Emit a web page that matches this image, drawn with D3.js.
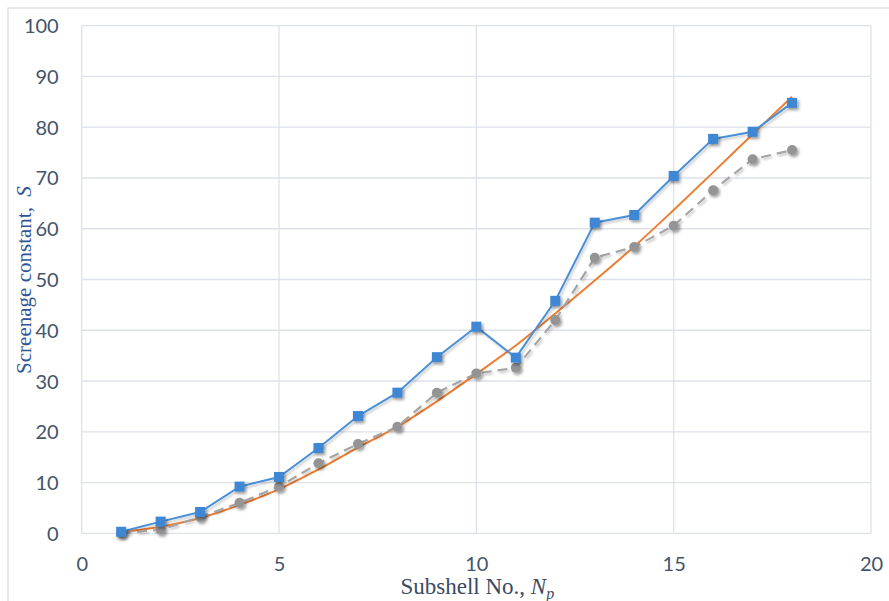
<!DOCTYPE html>
<html>
<head>
<meta charset="utf-8">
<script src="https://cdn.jsdelivr.net/npm/d3@7/dist/d3.min.js"></script>
<style>
  html, body { margin: 0; padding: 0; background: #fff; }
  svg { display: block; }
</style>
</head>
<body>
<svg id="chart" width="889" height="601"></svg>
<script>
// ---- data ----
const subshells = [1,2,3,4,5,6,7,8,9,10,11,12,13,14,15,16,17,18];
const seriesBlue = [0.3,2.3,4.2,9.2,11.1,16.8,23.1,27.7,34.7,40.7,34.6,45.8,61.2,62.7,70.4,77.7,79.1,84.8];
const seriesGray = [0.0,0.7,3.2,6.0,9.2,13.8,17.6,21.0,27.7,31.5,32.6,42.0,54.3,56.4,60.6,67.6,73.7,75.5];
const seriesOrange = [0.3,1.3,3.0,5.6,8.7,12.6,16.9,21.0,26.0,31.4,37.0,43.3,49.8,56.5,63.7,71.1,78.6,86.0];
const xTicks = [0,5,10,15,20];
const yTicks = [0,10,20,30,40,50,60,70,80,90,100];
const xTitle = "Subshell No., ";
const xTitleVar = "N";
const xTitleSub = "p";
const yTitle = "Screenage constant,  ";
const yTitleVar = "S";

// ---- layout ----
const svg = d3.select("#chart");
const L = 81.7, R = 871, T = 25.7, B = 533.3;
const x = d3.scaleLinear().domain([0,20]).range([L,R]);
const y = d3.scaleLinear().domain([0,100]).range([B,T]);

const gridColor = "#dde2ea";
const textColor = "#44546a";

const defs = svg.append("defs");
const f = defs.append("filter").attr("id","shadow").attr("x","-50%").attr("y","-50%").attr("width","200%").attr("height","200%");
f.append("feDropShadow").attr("dx",1.8).attr("dy",2.2).attr("stdDeviation",1.4).attr("flood-color","#000").attr("flood-opacity",0.4);
const f2 = defs.append("filter").attr("id","lshadow").attr("x","-10%").attr("y","-10%").attr("width","120%").attr("height","120%");
f2.append("feDropShadow").attr("dx",1.5).attr("dy",2).attr("stdDeviation",1.2).attr("flood-color","#000").attr("flood-opacity",0.22);

// outer chart border
svg.append("rect").attr("x",8).attr("y",8).attr("width",900).attr("height",620)
  .attr("fill","none").attr("stroke","#d9d9d9").attr("stroke-width",1.2);

// grid
const grid = svg.append("g");
grid.selectAll("line.h").data(yTicks).join("line")
  .attr("x1",L).attr("x2",R).attr("y1",d=>y(d)).attr("y2",d=>y(d))
  .attr("stroke",gridColor).attr("stroke-width",1.3);
grid.selectAll("line.v").data(xTicks).join("line")
  .attr("y1",T).attr("y2",B).attr("x1",d=>x(d)).attr("x2",d=>x(d))
  .attr("stroke",gridColor).attr("stroke-width",1.3);

// axes (labels only)
const yAxis = d3.axisLeft(y).tickValues(yTicks).tickSize(0).tickPadding(0);
const gy = svg.append("g").attr("transform",`translate(${L-23},0)`).call(yAxis);
gy.select(".domain").remove();
gy.selectAll("text").attr("font-family","Lato, 'Open Sans', sans-serif").attr("font-size",20)
  .attr("fill",textColor).attr("dy","0.35em").attr("x",0);

const xAxis = d3.axisBottom(x).tickValues(xTicks).tickSize(0).tickPadding(0);
const gx = svg.append("g").attr("transform",`translate(0,${571})`).call(xAxis);
gx.select(".domain").remove();
gx.selectAll("text").attr("font-family","Lato, 'Open Sans', sans-serif").attr("font-size",20)
  .attr("fill",textColor).attr("dy",0).attr("y",0);

// axis titles
const xt = svg.append("text").attr("x",(L+R)/2 + 1).attr("y",594)
  .attr("text-anchor","middle").attr("font-family","'Liberation Serif','Times New Roman',serif")
  .attr("font-size",23).attr("fill","#3b4a63");
xt.append("tspan").text(xTitle);
xt.append("tspan").attr("font-style","italic").text(xTitleVar);
xt.append("tspan").attr("font-style","italic").attr("font-size",16).attr("dy",5).text(xTitleSub);

const yt = svg.append("text").attr("transform","translate(31,280) rotate(-90)")
  .attr("text-anchor","middle").attr("font-family","'Liberation Serif','Times New Roman',serif")
  .attr("font-size",21).attr("fill","#2f5597").attr("xml:space","preserve");
yt.append("tspan").text(yTitle);
yt.append("tspan").attr("font-style","italic").text(yTitleVar);

// series
const line = d3.line().x((d,i)=>x(subshells[i])).y(d=>y(d));
const smooth = d3.line().x((d,i)=>x(subshells[i])).y(d=>y(d)).curve(d3.curveMonotoneX);

// orange trend line
svg.append("path").datum(seriesOrange).attr("d",smooth)
  .attr("fill","none").attr("stroke","#ed7d31").attr("stroke-width",2);

// gray dashed with circles
const gG = svg.append("g");
gG.append("path").datum(seriesGray).attr("d",line).attr("fill","none")
  .attr("stroke","#a5a5a5").attr("stroke-width",2.2).attr("stroke-dasharray","10,6")
  .attr("filter","url(#lshadow)");
gG.selectAll("circle").data(seriesGray).join("circle")
  .attr("cx",(d,i)=>x(subshells[i])).attr("cy",d=>y(d)).attr("r",5)
  .attr("fill","#949494").attr("filter","url(#shadow)");

// blue solid with squares
const gB = svg.append("g");
gB.append("path").datum(seriesBlue).attr("d",line).attr("fill","none")
  .attr("stroke","#4a90d6").attr("stroke-width",2).attr("filter","url(#lshadow)");
gB.selectAll("rect").data(seriesBlue).join("rect")
  .attr("x",(d,i)=>x(subshells[i])-5).attr("y",d=>y(d)-5).attr("width",10).attr("height",10)
  .attr("fill","#3d87d4").attr("filter","url(#shadow)");
</script>
</body>
</html>
